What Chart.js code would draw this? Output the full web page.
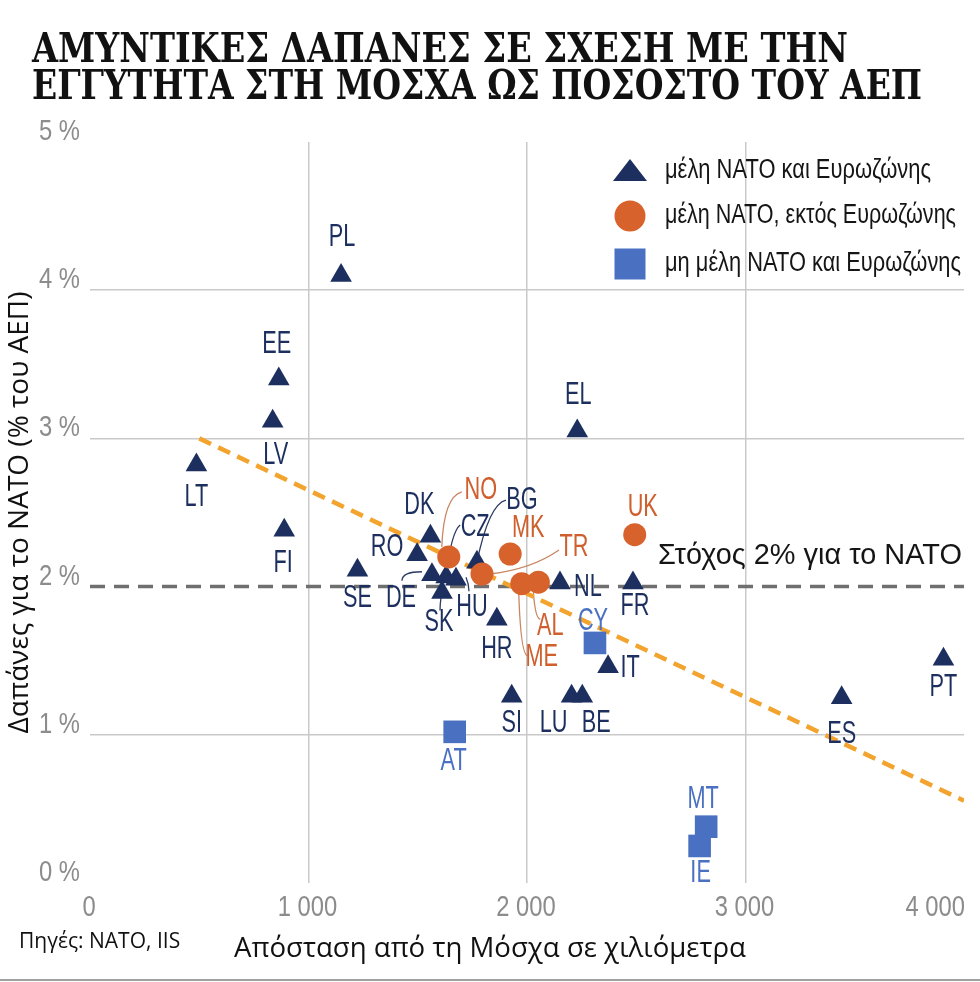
<!DOCTYPE html>
<html>
<head>
<meta charset="utf-8">
<script src="https://cdn.jsdelivr.net/npm/chart.js@4.4.1/dist/chart.umd.min.js"></script>
<style>
  html, body { margin: 0; padding: 0; background: #fff; }
  #wrap { position: relative; width: 980px; height: 982px; overflow: hidden; }
  #chartCanvas { position: absolute; left: 0; top: 0; }
  .title {
    position: absolute; left: 32px; white-space: nowrap;
    font-family: 'DejaVu Serif Condensed', 'DejaVu Serif', serif;
    font-weight: bold; font-size: 41px; line-height: 41px; color: #111;
    transform-origin: 0 0;
  }
  #src {
    position: absolute; left: 19px; top: 930px; white-space: nowrap;
    font-family: 'Open Sans', sans-serif; font-size: 21px; line-height: 21px; color: #111;
  }
  #xtitle {
    position: absolute; left: 0; width: 980px; top: 933px; text-align: center;
    font-family: 'Open Sans', sans-serif; font-size: 27.6px; line-height: 27.6px; color: #111;
  }
  #rule { position: absolute; left: 0; width: 980px; top: 979px; height: 2px; background: #a0a0a0; }
</style>
</head>
<body>
<div id="wrap">
  <canvas id="chartCanvas" width="980" height="982"></canvas>
  <div class="title" id="t1" style="top:28px">ΑΜΥΝΤΙΚΕΣ ΔΑΠΑΝΕΣ ΣΕ ΣΧΕΣΗ ΜΕ ΤΗΝ</div>
  <div class="title" id="t2" style="top:65px">ΕΓΓΥΤΗΤΑ ΣΤΗ ΜΟΣΧΑ ΩΣ ΠΟΣΟΣΤΟ ΤΟΥ ΑΕΠ</div>
  <div id="src">Πηγές: NATO, IIS</div>
  <div id="xtitle">Απόσταση από τη Μόσχα σε χιλιόμετρα</div>
  <div id="rule"></div>
</div>

<script>
  // data: distance from Moscow (km), defence spending (% of GDP)
  var triCodes = ['PL', 'EE', 'LV', 'LT', 'FI', 'SE', 'DK', 'RO', 'DE', 'CZ', 'HU', 'SK', 'BG', 'HR', 'NL', 'FR', 'EL', 'IT', 'SI', 'LU', 'BE', 'ES', 'PT'];
  var triDist = [1149, 864, 836, 487, 889, 1224, 1558, 1497, 1565, 1630, 1675, 1611, 1771, 1862, 2151, 2485, 2230, 2371, 1930, 2204, 2253, 3440, 3906];
  var triSpend = [4.10, 3.40, 3.115, 2.82, 2.38, 2.11, 2.34, 2.215, 2.08, 2.065, 2.05, 1.96, 2.165, 1.78, 2.025, 2.025, 3.05, 1.46, 1.26, 1.26, 1.26, 1.25, 1.51];

  var cirCodes = ['NO', 'MK', 'TR', 'ME', 'AL', 'UK'];
  var cirDist = [1642, 1923, 1794, 1976, 2052, 2493];
  var cirSpend = [2.20, 2.22, 2.085, 2.02, 2.03, 2.35];

  var sqCodes = ['CY', 'AT', 'MT', 'IE'];
  var sqDist = [2311, 1669, 2820, 2790];
  var sqSpend = [1.62, 1.02, 0.38, 0.25];

  var trendDist = [500, 4000];
  var trendSpend = [3.00, 0.555];
  var targetDist = [0, 4000];
  var targetSpend = [2, 2];

  var xTickValues = [0, 1000, 2000, 3000, 4000];
  var xTickLabels = ['0', '1 000', '2 000', '3 000', '4 000'];
  var yTickValues = [0, 1, 2, 3, 4, 5];
  var yTickLabels = ['0 %', '1 %', '2 %', '3 %', '4 %', '5 %'];

  var seriesNames = ['μέλη NATO και Ευρωζώνης', 'μέλη NATO, εκτός Ευρωζώνης', 'μη μέλη NATO και Ευρωζώνης'];
  var targetText = 'Στόχος 2% για το NATO';
  var yTitle = 'Δαπάνες για το NATO (% του ΑΕΠ)';

  var NAVY = '#1c2f5f';
  var ORANGE = '#d8622c';
  var BLUE = '#4a71c1';
  var SANS = "'Liberation Sans', Arial, sans-serif";

  // label placement, offsets in px from the marker
  var labelPos = {
    PL: [1, -38], EE: [-2, -35], LV: [3, 34], LT: [0, 32], FI: [-1, 33], SE: [0, 28],
    DK: [-11, -31], RO: [-30, -7], DE: [-31, 24], CZ: [29, -50], HU: [16, 28], SK: [-3, 30],
    BG: [45, -62], HR: [0, 30], NL: [28, 5], FR: [2, 24], EL: [1, -36], IT: [22, 2],
    SI: [0, 27], LU: [-18, 27], BE: [14, 27], ES: [0, 37], PT: [0, 28],
    NO: [32, -67], MK: [18, -26], TR: [92, -27], ME: [20, 74], AL: [12, 44], UK: [8, -27],
    CY: [-2, -21], AT: [-1, 30], MT: [-3, -27], IE: [1, 28]
  };
  // leader lines: start, control, end (relative to the marker)
  var leaders = {
    NO: [-7, -10, -5, -60, 13, -65],
    CZ: [0, 0, 5, -45, 14, -52],
    BG: [0, 0, 12, -58, 29, -62],
    TR: [8, 0, 50, -5, 77, -24],
    DE: [-30, 6, -30, -3, -10, -3],
    HU: [10, -2, 13, 5, 13, 12],
    SK: [-1, 5, -2, 12, -2, 18],
    AL: [-5, 10, -3, 37, 2, 37],
    ME: [-3, 9, -1, 72, 6, 72]
  };

  function toPoints(xs, ys) {
    return xs.map(function(x, i) { return { x: x, y: ys[i] }; });
  }

  // text with horizontal squeeze; if fitWidth is given the squeeze is chosen to hit it
  function drawText(ctx, txt, x, y, font, color, sx, align, fitWidth) {
    ctx.save();
    ctx.font = font;
    ctx.fillStyle = color;
    ctx.textAlign = align || 'center';
    ctx.textBaseline = 'middle';
    if (fitWidth) sx = fitWidth / ctx.measureText(txt).width;
    ctx.translate(x, y);
    ctx.scale(sx, 1);
    ctx.fillText(txt, 0, 0);
    ctx.restore();
  }

  var groups = [
    { codes: triCodes, color: NAVY, line: '#2b3b63' },
    { codes: cirCodes, color: '#cf5f2c', line: '#c98562' },
    { codes: sqCodes, color: BLUE, line: BLUE }
  ];

  var labelsPlugin = {
    id: 'countryLabels',
    beforeDatasetsDraw: function(chart) {
      var ctx = chart.ctx;
      groups.forEach(function(g, gi) {
        var meta = chart.getDatasetMeta(gi);
        meta.data.forEach(function(pt, i) {
          var l = leaders[g.codes[i]];
          if (!l) return;
          ctx.save();
          ctx.strokeStyle = g.line;
          ctx.lineWidth = 1.3;
          ctx.beginPath();
          ctx.moveTo(pt.x + l[0], pt.y + l[1]);
          ctx.quadraticCurveTo(pt.x + l[2], pt.y + l[3], pt.x + l[4], pt.y + l[5]);
          ctx.stroke();
          ctx.restore();
        });
      });
    },
    afterDatasetsDraw: function(chart) {
      var ctx = chart.ctx;
      groups.forEach(function(g, gi) {
        var meta = chart.getDatasetMeta(gi);
        meta.data.forEach(function(pt, i) {
          var code = g.codes[i];
          var off = labelPos[code] || [0, -28];
          drawText(ctx, code, pt.x + off[0], pt.y + off[1], '31px ' + SANS, g.color, 0.7);
        });
      });

      var xs = chart.scales.x, ys = chart.scales.y;

      // axis tick labels, placed with the scales
      xTickValues.forEach(function(v, i) {
        var last = i === xTickValues.length - 1;
        var px = last ? xs.right + 1 : xs.getPixelForValue(v) - 1;
        drawText(ctx, xTickLabels[i], px, xs.top + 25, '29px ' + SANS, '#8c8c8c', 0.82, last ? 'right' : 'center');
      });
      yTickValues.forEach(function(v, i) {
        drawText(ctx, yTickLabels[i], ys.right - 10, ys.getPixelForValue(v) - 10, '29px ' + SANS, '#8c8c8c', 0.82, 'right');
      });

      // target label
      drawText(ctx, targetText, 658, ys.getPixelForValue(2) - 31, '29px ' + SANS, '#151515', 1, 'left', 304);

      // legend
      var rows = [171, 216, 264];
      var mx = 630;
      ctx.save();
      ctx.fillStyle = NAVY;
      ctx.beginPath();
      ctx.moveTo(mx, rows[0] - 12);
      ctx.lineTo(mx + 17, rows[0] + 10);
      ctx.lineTo(mx - 17, rows[0] + 10);
      ctx.closePath();
      ctx.fill();
      ctx.fillStyle = ORANGE;
      ctx.beginPath();
      ctx.arc(mx, rows[1], 15.5, 0, Math.PI * 2);
      ctx.fill();
      ctx.fillStyle = BLUE;
      ctx.fillRect(mx - 15.5, rows[2] - 15.5, 31, 31);
      ctx.restore();
      var legendWidths = [266, 291, 296];
      seriesNames.forEach(function(name, i) {
        drawText(ctx, name, 665, rows[i], '27px ' + SANS, '#151515', 1, 'left', legendWidths[i]);
      });
    }
  };

  var ctx = document.getElementById('chartCanvas').getContext('2d');
  new Chart(ctx, {
    type: 'scatter',
    data: {
      datasets: [
        {
          label: seriesNames[0],
          data: toPoints(triDist, triSpend),
          pointStyle: 'triangle', pointRadius: 12.5, pointHoverRadius: 12.5,
          backgroundColor: NAVY, borderColor: NAVY, borderWidth: 0, order: 2
        },
        {
          label: seriesNames[1],
          data: toPoints(cirDist, cirSpend),
          pointStyle: 'circle', pointRadius: 11.5, pointHoverRadius: 11.5,
          backgroundColor: ORANGE, borderColor: ORANGE, borderWidth: 0, order: 1
        },
        {
          label: seriesNames[2],
          data: toPoints(sqDist, sqSpend),
          pointStyle: 'rect', pointRadius: 16, pointHoverRadius: 16,
          backgroundColor: BLUE, borderColor: BLUE, borderWidth: 0, order: 1
        },
        {
          label: 'trend',
          data: toPoints(trendDist, trendSpend),
          showLine: true, pointRadius: 0, borderColor: '#f3a42e', borderWidth: 4.5,
          borderDash: [13, 8], fill: false, order: 3
        },
        {
          label: 'target',
          data: toPoints(targetDist, targetSpend),
          showLine: true, pointRadius: 0, borderColor: '#6f6f6f', borderWidth: 3.5,
          borderDash: [15, 9], fill: false, order: 4
        }
      ]
    },
    options: {
      responsive: false,
      animation: false,
      events: [],
      layout: { padding: { top: 142, right: 12, left: 0, bottom: 0 } },
      plugins: { legend: { display: false }, tooltip: { enabled: false } },
      scales: {
        x: {
          type: 'linear', min: 0, max: 4000,
          afterFit: function(s) { s.height = 99; s.paddingLeft = 0; s.paddingRight = 0; },
          afterBuildTicks: function(s) { s.ticks = xTickValues.map(function(v) { return { value: v }; }); },
          border: { display: false },
          grid: {
            drawTicks: false, lineWidth: 1.5,
            color: function(c) { var v = c.tick ? c.tick.value : -1; return (v === 0 || v === 4000) ? 'rgba(0,0,0,0)' : '#c9c9c9'; }
          },
          ticks: { display: false }
        },
        y: {
          min: 0, max: 5,
          afterFit: function(s) { s.width = 90; },
          afterBuildTicks: function(s) { s.ticks = yTickValues.map(function(v) { return { value: v }; }); },
          border: { display: false },
          grid: {
            drawTicks: false, lineWidth: 1.5,
            color: function(c) { var v = c.tick ? c.tick.value : -1; return (v === 0 || v === 2 || v === 5) ? 'rgba(0,0,0,0)' : '#c9c9c9'; }
          },
          ticks: { display: false },
          title: {
            display: true, text: yTitle, color: '#111',
            font: { family: "'Open Sans', sans-serif", size: 28, lineHeight: 1.2 },
            padding: { top: 3, bottom: 0 }
          }
        }
      }
    },
    plugins: [labelsPlugin]
  });

  // squeeze the headline lines to the reference widths
  function fitTitles() {
    [['t1', 816], ['t2', 890]].forEach(function(p) {
      var el = document.getElementById(p[0]);
      el.style.transform = 'none';
      var w = el.getBoundingClientRect().width;
      if (w > 0) el.style.transform = 'scaleX(' + (p[1] / w) + ')';
    });
  }
  fitTitles();
  if (document.fonts && document.fonts.ready) document.fonts.ready.then(fitTitles);
</script>
</body>
</html>
